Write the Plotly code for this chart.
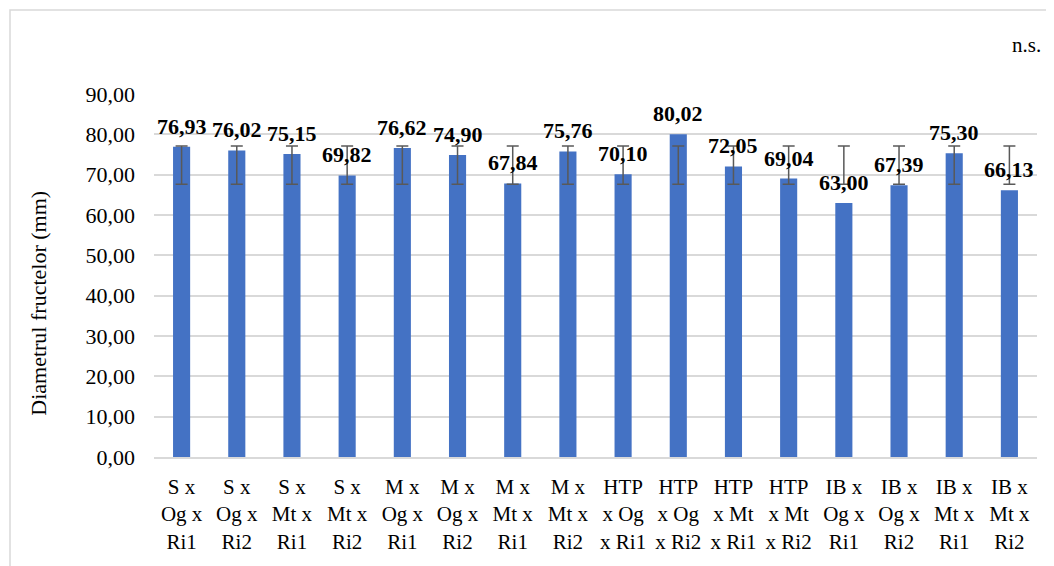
import plotly.graph_objects as go

categories = [
    "S x<br>Og x<br>Ri1", "S x<br>Og x<br>Ri2", "S x<br>Mt x<br>Ri1", "S x<br>Mt x<br>Ri2",
    "M x<br>Og x<br>Ri1", "M x<br>Og x<br>Ri2", "M x<br>Mt x<br>Ri1", "M x<br>Mt x<br>Ri2",
    "HTP<br>x Og<br>x Ri1", "HTP<br>x Og<br>x Ri2", "HTP<br>x Mt<br>x Ri1", "HTP<br>x Mt<br>x Ri2",
    "IB x<br>Og x<br>Ri1", "IB x<br>Og x<br>Ri2", "IB x<br>Mt x<br>Ri1", "IB x<br>Mt x<br>Ri2",
]
values = [76.93, 76.02, 75.15, 69.82, 76.62, 74.90, 67.84, 75.76,
          70.10, 80.02, 72.05, 69.04, 63.00, 67.39, 75.30, 66.13]
err_high = [77.1] * 16
err_low = [67.6] * 16

FONT = "Liberation Serif"
OFF = 8  # default page body margin
W, H = 1054 - OFF, 566 - OFF
L, T = 154 - OFF, 94 - OFF
R = W - (1037 - OFF)
B = H - (457.5 - OFF)
PW, PH = W - L - R, H - T - B


def px(xr):
    return (xr - OFF - L) / PW


def py(yr):
    return (H - B - (yr - OFF)) / PH


fig = go.Figure()
fig.add_trace(go.Bar(
    x=categories, y=values,
    marker=dict(color="#4472C4", line=dict(width=0)),
    width=0.31,
    hoverinfo="skip",
))
fig.add_trace(go.Scatter(
    x=categories, y=err_high, mode="markers",
    marker=dict(opacity=0, size=1),
    error_y=dict(type="data", symmetric=False,
                 array=[0] * len(err_high),
                 arrayminus=[h - l for h, l in zip(err_high, err_low)],
                 color="#595959", thickness=1.5, width=6),
    hoverinfo="skip", showlegend=False,
))

annotations = [
    dict(x=c, y=v, xref="x", yref="y", text=f"{v:.2f}".replace(".", ","),
         showarrow=False, yanchor="bottom", xanchor="center", yshift=6,
         font=dict(family=FONT, size=22, color="black", weight="bold"))
    for c, v in zip(categories, values)
]
annotations.append(dict(text="n.s.", xref="paper", yref="paper",
                        x=px(1026), y=py(45),
                        xanchor="center", yanchor="middle", showarrow=False,
                        font=dict(family=FONT, size=21, color="black")))
annotations.append(dict(text="Diametrul fructelor (mm)", xref="paper", yref="paper",
                        x=px(39), y=py(304), textangle=-90,
                        xanchor="center", yanchor="middle", showarrow=False,
                        font=dict(family=FONT, size=22, color="black")))

fig.update_layout(
    width=W, height=H,
    margin=dict(l=L, r=R, t=T, b=B, autoexpand=False),
    paper_bgcolor="white", plot_bgcolor="white",
    showlegend=False,
    separators=",.",
    font=dict(family=FONT, size=21, color="black"),
    xaxis=dict(showgrid=False, showline=True, linecolor="#d9d9d9", linewidth=1.5,
               ticks="", tickfont=dict(family=FONT, size=21, color="black"),
               range=[-0.5, len(categories) - 0.5], autorange=False,
               ticklabelstandoff=10, tickangle=0, automargin=False),
    yaxis=dict(range=[0, 90], dtick=10, tickformat=".2f",
               showgrid=True, gridcolor="#d9d9d9", gridwidth=1.5,
               zeroline=False, showline=False, ticks="",
               tickfont=dict(family=FONT, size=22, color="black"),
               ticklabelstandoff=18, automargin=False),
    annotations=annotations,
    shapes=[dict(type="rect", xref="paper", yref="paper",
                 x0=px(10), x1=px(1070),
                 y0=py(580), y1=py(10),
                 line=dict(color="#d9d9d9", width=1.5), layer="below")],
)

fig.write_html("out.html")
